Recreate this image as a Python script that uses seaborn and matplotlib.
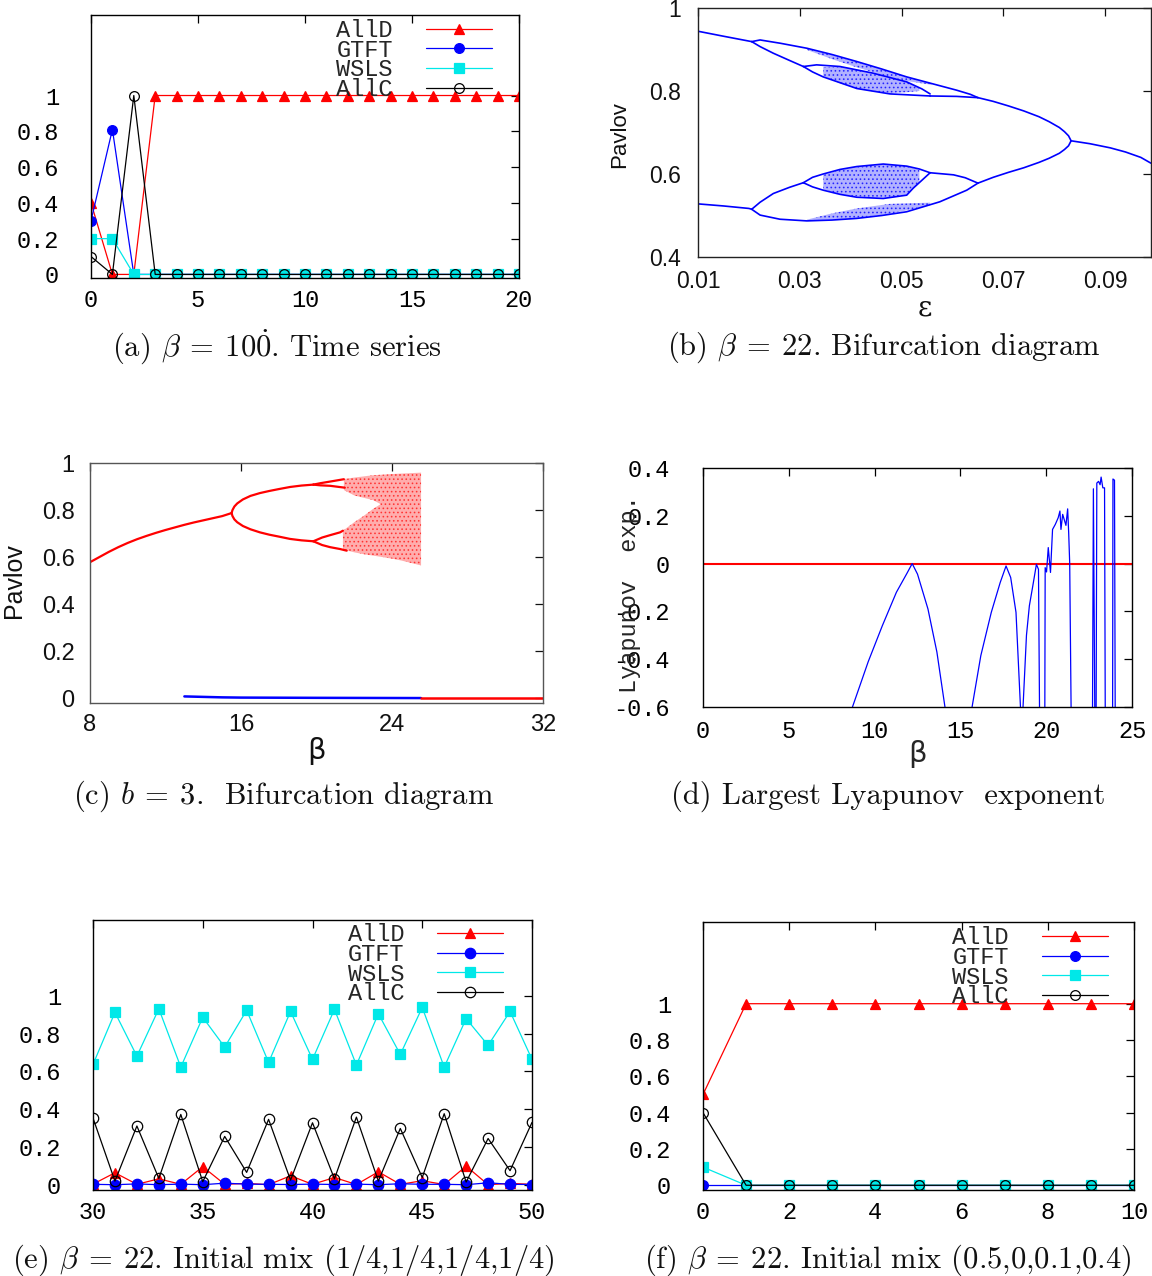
import numpy as np
import pandas as pd
import seaborn as sns
import matplotlib
matplotlib.use("Agg")
import matplotlib.pyplot as plt

sns.set_theme(style="white")
plt.rcParams["font.family"] = ["DejaVu Sans"]
plt.rcParams["mathtext.fontset"] = "cm"
plt.rcParams["axes.unicode_minus"] = False
plt.rcParams["hatch.linewidth"] = 0.7

# ---------------- data ----------------
strategies = ["AllD", "GTFT", "WSLS", "AllC"]

# (a) beta = 100, time series
a_t = list(range(21))
a_alld = [0.4, 0, 0, 1, 1, 1, 1, 1, 1, 1, 1, 1, 1, 1, 1, 1, 1, 1, 1, 1, 1]
a_gtft = [0.3, 0.81, 0, 0, 0, 0, 0, 0, 0, 0, 0, 0, 0, 0, 0, 0, 0, 0, 0, 0, 0]
a_wsls = [0.2, 0.2, 0, 0, 0, 0, 0, 0, 0, 0, 0, 0, 0, 0, 0, 0, 0, 0, 0, 0, 0]
a_allc = [0.1, 0, 1.0, 0, 0, 0, 0, 0, 0, 0, 0, 0, 0, 0, 0, 0, 0, 0, 0, 0, 0]

# (e) beta = 22, initial mix (1/4,...)
e_t = list(range(30, 51))
e_alld = [0.005, 0.065, 0.004, 0.033, 0.004, 0.097, 0.004, 0.009, 0.002, 0.049, 0.004,
          0.040, 0.003, 0.070, 0.004, 0.023, 0.003, 0.100, 0.002, 0.009, 0.004]
e_gtft = [0.004, 0.002, 0.006, 0.002, 0.005, 0.002, 0.010, 0.005, 0.004, 0.003, 0.005,
          0.003, 0.005, 0.002, 0.007, 0.004, 0.004, 0.002, 0.012, 0.004, 0.003]
e_wsls = [0.637, 0.912, 0.681, 0.931, 0.623, 0.886, 0.729, 0.923, 0.648, 0.917, 0.664,
          0.928, 0.634, 0.905, 0.690, 0.938, 0.623, 0.879, 0.738, 0.917, 0.664]
e_allc = [0.354, 0.021, 0.312, 0.035, 0.373, 0.018, 0.257, 0.067, 0.347, 0.026, 0.329,
          0.033, 0.359, 0.021, 0.299, 0.040, 0.377, 0.016, 0.246, 0.076, 0.331]

# (f) beta = 22, initial mix (0.5,0,0.1,0.4)
f_t = list(range(11))
f_alld = [0.5, 1, 1, 1, 1, 1, 1, 1, 1, 1, 1]
f_gtft = [0, 0, 0, 0, 0, 0, 0, 0, 0, 0, 0]
f_wsls = [0.1, 0, 0, 0, 0, 0, 0, 0, 0, 0, 0]
f_allc = [0.4, 0, 0, 0, 0, 0, 0, 0, 0, 0, 0]

# (b) bifurcation in epsilon: branch curves (eps, Pavlov)
b_branches = [
    # period-1 on the right
    ([0.0833, 0.087, 0.091, 0.094, 0.097, 0.099], [0.680, 0.673, 0.663, 0.653, 0.640, 0.626]),
    # period-2 branches
    ([0.065, 0.068, 0.071, 0.074, 0.077, 0.079, 0.081, 0.082, 0.0828, 0.0833],
     [0.784, 0.775, 0.764, 0.752, 0.738, 0.726, 0.712, 0.702, 0.692, 0.680]),
    ([0.065, 0.068, 0.071, 0.074, 0.077, 0.079, 0.081, 0.082, 0.0828, 0.0833],
     [0.578, 0.592, 0.604, 0.615, 0.628, 0.638, 0.650, 0.659, 0.668, 0.680]),
    # left period-2 pieces
    ([0.010, 0.015, 0.02055], [0.944, 0.932, 0.919]),
    ([0.010, 0.015, 0.020, 0.02055], [0.528, 0.523, 0.517, 0.515]),
    # upper period-4 loop
    ([0.02055, 0.0222, 0.0262, 0.0314, 0.0363, 0.0412, 0.0461, 0.051, 0.0559, 0.0608, 0.0635, 0.065],
     [0.919, 0.923, 0.915, 0.903, 0.888, 0.871, 0.853, 0.834, 0.818, 0.802, 0.792, 0.784]),
    ([0.02055, 0.0222, 0.0248, 0.0281, 0.0307], [0.919, 0.907, 0.891, 0.873, 0.859]),
    ([0.0307, 0.0333, 0.0379, 0.0444, 0.051, 0.054, 0.0556], [0.859, 0.863, 0.859, 0.843, 0.822, 0.805, 0.793]),
    ([0.0307, 0.0325, 0.0346, 0.0412, 0.0477, 0.0556], [0.859, 0.846, 0.834, 0.806, 0.793, 0.788]),
    ([0.0556, 0.0608, 0.065], [0.788, 0.787, 0.784]),
    # lower period-4 loop
    ([0.02055, 0.0222, 0.0248, 0.028, 0.0307], [0.515, 0.532, 0.553, 0.568, 0.579]),
    ([0.0307, 0.0325, 0.0346, 0.0379, 0.0412, 0.0464, 0.051, 0.0535, 0.0556],
     [0.579, 0.592, 0.600, 0.611, 0.618, 0.624, 0.619, 0.612, 0.603]),
    ([0.0307, 0.0325, 0.0346, 0.0379, 0.0412, 0.0464, 0.051, 0.0523, 0.054, 0.0556],
     [0.579, 0.569, 0.561, 0.551, 0.544, 0.541, 0.549, 0.566, 0.585, 0.603]),
    ([0.0556, 0.0602, 0.0625, 0.065], [0.603, 0.598, 0.591, 0.578]),
    ([0.02055, 0.0222, 0.0261, 0.0314, 0.0363, 0.0412, 0.0461, 0.051, 0.0575, 0.0628, 0.065],
     [0.515, 0.501, 0.491, 0.487, 0.489, 0.493, 0.500, 0.509, 0.533, 0.561, 0.578]),
]
# chaotic bands (eps, lower, upper)
b_bands = [
    ([0.0314, 0.0363, 0.0412, 0.0461, 0.051, 0.0559], [0.899, 0.877, 0.857, 0.839, 0.824, 0.815],
     [0.902, 0.887, 0.870, 0.852, 0.833, 0.817]),
    ([0.0346, 0.038, 0.0412, 0.0444, 0.0477, 0.051, 0.0535], [0.836, 0.818, 0.806, 0.799, 0.795, 0.797, 0.800],
     [0.858, 0.858, 0.852, 0.843, 0.834, 0.822, 0.808]),
    ([0.0314, 0.0363, 0.0412, 0.0477, 0.0556], [0.488, 0.490, 0.494, 0.504, 0.524],
     [0.490, 0.505, 0.517, 0.528, 0.531]),
    ([0.0346, 0.038, 0.0412, 0.0444, 0.0477, 0.051, 0.0535], [0.563, 0.550, 0.546, 0.543, 0.543, 0.550, 0.580],
     [0.598, 0.610, 0.617, 0.621, 0.623, 0.619, 0.610]),
]

# (c) bifurcation in beta
c_branches = [
    ([8, 8.5, 9, 9.5, 10, 10.5, 11, 11.5, 12, 12.5, 13, 13.5, 14, 14.5, 15, 15.5],
     [0.578, 0.600, 0.622, 0.642, 0.660, 0.676, 0.690, 0.703, 0.715, 0.726, 0.737, 0.747, 0.756, 0.765, 0.774, 0.787]),
    ([15.5, 15.55, 15.65, 15.8, 16.1, 16.5, 17, 17.5, 18, 18.6, 19.2, 19.83],
     [0.787, 0.800, 0.815, 0.828, 0.845, 0.860, 0.872, 0.881, 0.889, 0.898, 0.904, 0.908]),
    ([15.5, 15.55, 15.65, 15.8, 16.1, 16.5, 17, 17.5, 18, 18.6, 19.2, 19.83],
     [0.787, 0.774, 0.760, 0.748, 0.732, 0.718, 0.705, 0.695, 0.687, 0.677, 0.671, 0.667]),
    ([19.83, 20.2, 20.72, 21.45], [0.908, 0.914, 0.921, 0.931]),
    ([19.83, 20.2, 20.72, 21.5], [0.908, 0.905, 0.903, 0.895]),
    ([19.83, 20.3, 20.72, 21.25, 21.4], [0.667, 0.683, 0.693, 0.705, 0.712]),
    ([19.83, 20.3, 20.72, 21.25, 21.6], [0.667, 0.651, 0.642, 0.634, 0.627]),
]
c_bands = [
    ([21.45, 22.0, 22.5, 23.0, 23.4], [0.885, 0.862, 0.852, 0.842, 0.825], [0.932, 0.938, 0.943, 0.948, 0.950]),
    ([21.4, 22.0, 22.5, 23.0, 23.4], [0.632, 0.620, 0.612, 0.606, 0.601], [0.712, 0.748, 0.775, 0.805, 0.825]),
    ([23.4, 24.0, 24.5, 25.0, 25.54], [0.601, 0.593, 0.585, 0.575, 0.564], [0.950, 0.953, 0.955, 0.957, 0.959]),
]
c_blue_beta = [13, 14, 15, 16, 20, 25.54]
c_blue_y = [0.007, 0.005, 0.003, 0.002, 0.001, 0.0]
c_red_beta = [25.54, 32]
c_red_y = [0.0, 0.0]

# (d) largest Lyapunov exponent (NaN separates out-of-range stretches)
nan = np.nan
d_beta = [8.71, 9.63, 10.45, 11.27, 11.89, 12.19, 12.5, 13.11, 13.63, 14.1, nan,
          15.68, 16.19, 16.8, 17.32, 17.66, 17.93, 18.24, 18.5, nan,
          18.65, 18.85, 19.02, 19.22, 19.43, 19.55, 19.61, nan,
          19.92, 19.94, 20.02, 20.12, 20.25, 20.37, 20.53, 20.7, 20.8, 20.86, 20.96, 21.15, 21.25, 21.31, 21.37, 21.45, nan,
          22.7, 22.75, 22.83, nan,
          22.91, 22.95, 23.05, 23.14, 23.2, 23.3, 23.4, 23.44, nan,
          23.87, 23.89, 23.98, 24.02]
d_lyap = [-0.6, -0.41, -0.26, -0.12, -0.04, 0.0, -0.044, -0.19, -0.37, -0.6, nan,
          -0.6, -0.385, -0.204, -0.079, -0.01, -0.058, -0.204, -0.6, nan,
          -0.6, -0.30, -0.176, -0.093, -0.003, -0.024, -0.6, nan,
          -0.6, -0.017, -0.035, 0.067, -0.037, 0.143, 0.164, 0.192, 0.22, 0.143, 0.206, 0.16, 0.229, 0.129, 0.0, -0.6, nan,
          -0.6, 0.313, -0.6, nan,
          -0.6, 0.337, 0.344, 0.33, 0.362, 0.317, 0.317, -0.6, nan,
          -0.6, 0.354, 0.349, -0.6]

# ---------------- styling ----------------
W, H = 1152, 1276
fig = plt.figure(figsize=(W / 100, H / 100), dpi=100)
fig.patch.set_facecolor("white")

MONO = "Liberation Mono"
SANS = "Liberation Sans"
colors = {"AllD": "#ff0000", "GTFT": "#0000ff", "WSLS": "#00e8e8", "AllC": "#000000"}
markers = {"AllD": "^", "GTFT": "o", "WSLS": "s", "AllC": "o"}


def add_ax(l, t, r, b):
    return fig.add_axes([l / W, 1 - b / H, (r - l) / W, (b - t) / H])


def frame(ax, color="black", lw=1.0):
    for s in ax.spines.values():
        s.set_visible(True)
        s.set_color(color)
        s.set_linewidth(lw)
    ax.set_facecolor("white")
    ax.grid(False)


def time_series(ax, t, series, xticks, ylim, legend_anchor, ms=7):
    for name, vals in zip(strategies, series):
        kw = dict(color=colors[name], marker=markers[name], markersize=ms,
                  linewidth=0.9, markeredgewidth=0.9, label=name, ax=ax)
        if name == "AllC":
            kw.update(markerfacecolor="none", markeredgecolor="black")
        else:
            kw.update(markerfacecolor=colors[name], markeredgecolor=colors[name])
        sns.lineplot(x=t, y=vals, **kw)
    frame(ax)
    ax.set_xlim(t[0], t[-1])
    ax.set_ylim(*ylim)
    ax.set_xticks(xticks)
    ax.set_xticklabels([str(v) for v in xticks])
    yt = [0, 0.2, 0.4, 0.6, 0.8, 1]
    ax.set_yticks(yt)
    ax.set_yticklabels(["0", "0.2", "0.4", "0.6", "0.8", "1"])
    ax.tick_params(axis="both", direction="in", top=True, right=True, length=5.5,
                   width=0.9, labelsize=17, labelfontfamily=MONO, colors="black")
    ax.tick_params(axis="y", pad=23)
    ax.tick_params(axis="x", pad=8)
    ax.set_xlabel("")
    ax.set_ylabel("")
    ax.legend(loc="upper right", bbox_to_anchor=legend_anchor, frameon=False,
              markerfirst=False, prop={"family": MONO, "size": 17},
              handlelength=2.8, handletextpad=1.4, labelspacing=-0.14,
              borderaxespad=0, borderpad=0)


# (a)
ax_a = add_ax(91, 15, 519, 278)
time_series(ax_a, a_t, [a_alld, a_gtft, a_wsls, a_allc], [0, 5, 10, 15, 20],
            (-0.02, 1.45), (0.937, 0.985))

# (e)
ax_e = add_ax(93, 920, 532, 1190)
time_series(ax_e, e_t, [e_alld, e_gtft, e_wsls, e_allc], [30, 35, 40, 45, 50],
            (-0.026, 1.40), (0.935, 0.988), ms=7.5)

# (f)
ax_f = add_ax(703, 922, 1134, 1190)
time_series(ax_f, f_t, [f_alld, f_gtft, f_wsls, f_allc], [0, 2, 4, 6, 8, 10],
            (-0.026, 1.45), (0.94, 0.984))

# (b)
ax_b = add_ax(698, 8, 1151, 257)
for xs, lo, hi in b_bands:
    ax_b.fill_between(xs, lo, hi, facecolor=(0, 0, 1, 0.3), edgecolor=(0, 0, 1, 0.7),
                      hatch="....", linewidth=0)
for xs, ys in b_branches:
    ax_b.plot(xs, ys, color="#0000ff", lw=1.2)
frame(ax_b, color="#222222")
ax_b.set_xlim(0.01, 0.099)
ax_b.set_ylim(0.4, 1.0)
ax_b.set_xticks([0.01, 0.03, 0.05, 0.07, 0.09])
ax_b.set_xticklabels(["0.01", "0.03", "0.05", "0.07", "0.09"])
ax_b.set_yticks([0.4, 0.6, 0.8, 1.0])
ax_b.set_yticklabels(["0.4", "0.6", "0.8", "1"])
ax_b.tick_params(axis="both", direction="in", top=True, right=True, length=5.5,
                 width=0.9, labelsize=16.5, labelfontfamily=SANS, colors="#111111")
ax_b.tick_params(axis="y", pad=12)
ax_b.tick_params(axis="x", pad=9)
ax_b.set_ylabel("Pavlov", family=["Liberation Sans Narrow", SANS], fontsize=16, color="#111111")
ax_b.yaxis.set_label_coords(-0.15, 0.49)
ax_b.set_xlabel("ε", family="DejaVu Serif", fontsize=20, color="#111111")
ax_b.xaxis.set_label_coords(0.5, -0.15)

# (c)
ax_c = add_ax(90, 463, 543, 703)
for xs, lo, hi in c_bands:
    ax_c.fill_between(xs, lo, hi, facecolor=(1, 0, 0, 0.32), edgecolor=(1, 0, 0, 0.6),
                      hatch="....", linewidth=0)
for xs, ys in c_branches:
    ax_c.plot(xs, ys, color="#ff0000", lw=1.6)
ax_c.plot(c_blue_beta, c_blue_y, color="#0000ff", lw=1.8)
ax_c.plot(c_red_beta, c_red_y, color="#ff0000", lw=1.8)
frame(ax_c, color="#555555")
ax_c.set_xlim(8, 32)
ax_c.set_ylim(-0.021, 1.0)
ax_c.set_xticks([8, 16, 24, 32])
ax_c.set_xticklabels(["8", "16", "24", "32"])
ax_c.set_yticks([0, 0.2, 0.4, 0.6, 0.8, 1])
ax_c.set_yticklabels(["0", "0.2", "0.4", "0.6", "0.8", "1"])
ax_c.tick_params(axis="both", direction="in", top=True, right=True, length=5.5,
                 width=0.9, labelsize=17, labelfontfamily=SANS, colors="#111111")
ax_c.tick_params(axis="y", pad=11)
ax_c.tick_params(axis="x", pad=8)
ax_c.set_ylabel("Pavlov", family=["Liberation Sans Narrow", SANS], fontsize=18, color="#111111")
ax_c.yaxis.set_label_coords(-0.141, 0.51)
ax_c.set_xlabel("β", family="DejaVu Sans", fontsize=21, color="#111111")
ax_c.xaxis.set_label_coords(0.5, -0.14)

# (d)
ax_d = add_ax(703, 468, 1132, 707)
ax_d.axhline(0, color="#ff0000", lw=1.5)
ax_d.plot(d_beta, d_lyap, color="#0000ff", lw=0.9)
frame(ax_d)
ax_d.set_xlim(0, 25)
ax_d.set_ylim(-0.6, 0.4)
ax_d.set_xticks([0, 5, 10, 15, 20, 25])
ax_d.set_xticklabels(["0", "5", "10", "15", "20", "25"])
ax_d.set_yticks([-0.6, -0.4, -0.2, 0, 0.2, 0.4])
ax_d.set_yticklabels(["-0.6", "-0.4", "-0.2", "0", "0.2", "0.4"])
ax_d.tick_params(axis="both", direction="in", top=True, right=True, length=5.5,
                 width=0.9, labelsize=17, labelfontfamily=MONO, colors="black")
ax_d.tick_params(axis="y", pad=24)
ax_d.tick_params(axis="x", pad=9)
ax_d.set_ylabel("Lyapunov  exp.", family=MONO, fontsize=17)
ax_d.yaxis.set_label_coords(-0.145, 0.473)
ax_d.set_xlabel("β", family="DejaVu Sans", fontsize=21)
ax_d.xaxis.set_label_coords(0.5, -0.14)

# captions
CAP = dict(ha="center", va="center", family="cmr10", fontsize=22, color="#111111")
fig.text(277 / W, 1 - 347 / H, r"(a) $\beta\:=\:10\dot{0}$. Time series", **CAP)
fig.text(884 / W, 1 - 347 / H, r"(b) $\beta\:=\:22$. Bifurcation diagram", **CAP)
fig.text(284 / W, 1 - 796 / H, r"(c) $b\:=\:3$.  Bifurcation diagram", **CAP)
fig.text(888 / W, 1 - 796 / H, "(d) Largest Lyapunov  exponent", **CAP)
fig.text(283 / W, 1 - 1260 / H, r"(e) $\beta\:=\:22$. Initial mix (1/4,1/4,1/4,1/4)", **CAP)
fig.text(888 / W, 1 - 1260 / H, r"(f) $\beta\:=\:22$. Initial mix (0.5,0,0.1,0.4)", **CAP)

fig.savefig("out.png", dpi=100, facecolor="white")
